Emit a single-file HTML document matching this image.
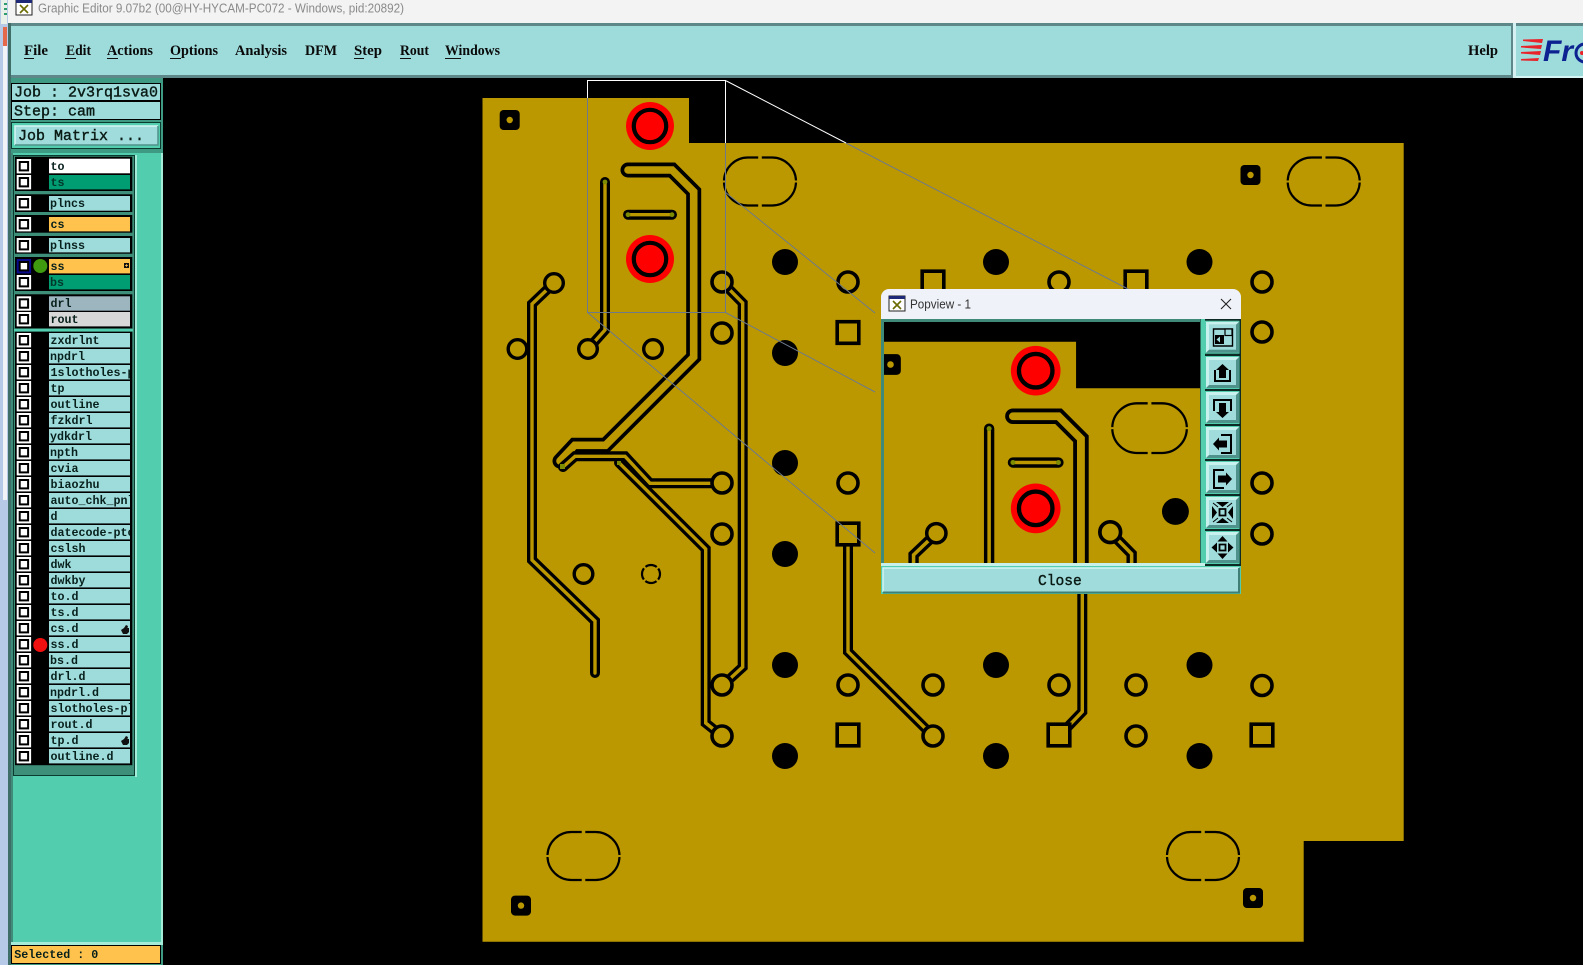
<!DOCTYPE html>
<html lang="en"><head><meta charset="utf-8"><title>Graphic Editor</title>
<style>
html,body{margin:0;padding:0;background:#000;width:1583px;height:965px;overflow:hidden}
svg{display:block}
.m{font:bold 15px "Liberation Serif",serif;fill:#0a0a0a}
.j{font:15px "Liberation Mono",monospace;fill:#0a1a14;stroke:#0a1a14;stroke-width:.4}
.l{font:bold 11.67px "Liberation Mono",monospace;fill:#08201c}
</style></head><body>
<svg xmlns="http://www.w3.org/2000/svg" width="1583" height="965" viewBox="0 0 1583 965">
<defs>
<clipPath id="cellclip"><rect x="49" y="150" width="81" height="620"/></clipPath>
<clipPath id="popclip"><rect x="884" y="322" width="316" height="241"/></clipPath>
<g id="cb"><rect x="16.7" y="0" width="14.4" height="14.4" fill="#fff"/><rect x="18.7" y="2" width="10.4" height="10.4" fill="#000"/><rect x="20.7" y="4" width="6.4" height="6.4" fill="#fff"/></g>
<g id="slot" fill="none" stroke="#000" stroke-width="2.2">
<path d="M1.8,-24H12A24,24 0 0 1 36,-1A24,24 0 0 1 36,-1"/><path d="M36,1A24,24 0 0 1 12,24H1.8"/>
<path d="M-1.8,24H-12A24,24 0 0 1 -36,1"/><path d="M-36,-1A24,24 0 0 1 -12,-24H-1.8"/></g>
<g id="sq"><rect x="-10" y="-10" width="20" height="20" rx="4" fill="#000"/><circle r="3.2" fill="#bb9800"/></g>
<g id="o"><circle r="10" fill="#bb9800" stroke="#000" stroke-width="3.6"/></g>
<g id="os"><circle r="9.3" fill="#bb9800" stroke="#000" stroke-width="3.4"/></g>
<g id="b"><rect x="-10.8" y="-10.8" width="21.6" height="21.6" fill="#bb9800" stroke="#000" stroke-width="3.6"/></g>
<g id="p"><circle r="24" fill="#f00"/><circle r="16.2" fill="#f00" stroke="#000" stroke-width="4.2"/></g>
<g id="t15" fill="none" stroke-linecap="round" stroke-linejoin="miter">
<path d="M628,170H672L693.7,191.7V357L605.5,445.3H574.7L560,461"/></g>
<g id="t10" fill="none" stroke-linecap="round" stroke-linejoin="miter">
<path d="M605,182V330L588,349"/>
<path d="M554,283L532,304V560L595,621V673"/>
<path d="M722,282L742.7,303V667L722,686"/>
<path d="M848,534V651.7L933,736"/>
<path d="M1059,736L1082.3,711.7V560"/>
<path d="M563,467L575,456.3H625L650,483.3H722"/>
<path d="M619,462.7L705.7,549V723L722,736"/>
<path d="M628,214.7H672"/>
</g>
<g id="t15p" fill="none" stroke-linecap="round"><path d="M628,170H672L693.7,191.7V318"/></g>
<g id="t10p" fill="none" stroke-linecap="round">
<path d="M605,182V318"/><path d="M554,283L532,304V318"/><path d="M722,282L742.7,303V318"/><path d="M628,214.7H672"/></g>
<g id="pboard">
<polygon points="482.5,98 689,98 689,143 812,143 812,318 482.5,318" fill="#bb9800"/>
<use href="#t15p" stroke="#000" stroke-width="15"/><use href="#t15p" stroke="#bb9800" stroke-width="7.6"/>
<use href="#t10p" stroke="#000" stroke-width="10"/><use href="#t10p" stroke="#bb9800" stroke-width="3.4"/>
<g fill="#7d8c00"><circle cx="605" cy="182" r="2.4"/><circle cx="628" cy="214.7" r="2.4"/><circle cx="672" cy="214.7" r="2.4"/></g>
<use href="#p" x="650" y="126"/><use href="#p" x="650" y="259"/>
<use href="#sq" x="509.7" y="120"/>
<use href="#slot" x="760" y="181.5"/>
<circle cx="785" cy="262" r="13" fill="#000"/>
<use href="#os" x="554" y="283"/><use href="#o" x="722" y="282"/>
</g>
</defs>

<!-- window chrome -->
<rect width="1583" height="24" fill="#f3f3f3"/>
<rect x="0" y="0" width="8" height="965" fill="#b6c9e6"/>
<rect x="3" y="46" width="4" height="454" fill="#f2f3f6"/>
<rect x="3" y="27" width="4" height="19" fill="#e4694a"/>
<rect x="1" y="0" width="6" height="24" fill="#e9efe9"/><rect x="4" y="3" width="3" height="2" fill="#2f9a6a"/><rect x="4" y="8" width="3" height="2" fill="#2f9a6a"/><rect x="4" y="13" width="3" height="2" fill="#2f9a6a"/>
<rect x="8" y="23" width="1575" height="3" fill="#5d8788"/>
<rect x="8" y="23" width="3" height="942" fill="#3f6e68"/>
<rect x="16" y="0" width="16" height="15" fill="#fff" stroke="#222" stroke-width="1"/><rect x="16" y="0" width="16" height="3" fill="#1e2a78"/><path d="M20,5L28,13M28,5L20,13" stroke="#6a6a00" stroke-width="1.6"/>
<text x="38" y="12.5" font-family="Liberation Sans, sans-serif" font-size="12.5" fill="#8a8a8a" textLength="366" lengthAdjust="spacingAndGlyphs">Graphic Editor 9.07b2 (00@HY-HYCAM-PC072 - Windows, pid:20892)</text>

<!-- menu bar -->
<rect x="11" y="26" width="1501" height="50" fill="#9edcdc"/>
<rect x="11" y="75" width="1502" height="3" fill="#5d8788"/>
<rect x="1511" y="26" width="2" height="50" fill="#5d8788"/>
<rect x="1513" y="23" width="3" height="55" fill="#d5f0f0"/>
<rect x="1516" y="26" width="67" height="50" fill="#9edcdc"/>
<rect x="1516" y="76" width="67" height="2" fill="#d5f5f5"/>
<g>
<text class="m" x="24" y="55" textLength="24" lengthAdjust="spacingAndGlyphs">File</text>
<text class="m" x="66" y="55" textLength="25" lengthAdjust="spacingAndGlyphs">Edit</text>
<text class="m" x="107" y="55" textLength="46" lengthAdjust="spacingAndGlyphs">Actions</text>
<text class="m" x="170" y="55" textLength="48" lengthAdjust="spacingAndGlyphs">Options</text>
<text class="m" x="235" y="55" textLength="52" lengthAdjust="spacingAndGlyphs">Analysis</text>
<text class="m" x="305" y="55" textLength="32" lengthAdjust="spacingAndGlyphs">DFM</text>
<text class="m" x="354" y="55" textLength="28" lengthAdjust="spacingAndGlyphs">Step</text>
<text class="m" x="400" y="55" textLength="29" lengthAdjust="spacingAndGlyphs">Rout</text>
<text class="m" x="445" y="55" textLength="55" lengthAdjust="spacingAndGlyphs">Windows</text>
<text class="m" x="1468" y="55" textLength="30" lengthAdjust="spacingAndGlyphs">Help</text>
</g>
<g fill="#111"><rect x="24" y="58" width="10" height="1"/><rect x="65" y="58" width="11" height="1"/><rect x="107" y="58" width="11" height="1"/><rect x="170" y="58" width="11" height="1"/><rect x="354" y="58" width="10" height="1"/><rect x="400" y="58" width="11" height="1"/><rect x="445" y="58" width="16" height="1"/></g>
<!-- logo -->
<g fill="#e8232a"><polygon points="1523,39.5 1543,39 1542,43 1523,41"/><polygon points="1521,46 1542,45 1541,49 1521,47.5"/><polygon points="1521,52 1541,51 1540,55 1521,53.5"/><polygon points="1521,59 1539,58 1538,61 1521,60.5"/></g>
<text x="1543" y="61" font-family="Liberation Sans, sans-serif" font-weight="bold" font-style="italic" font-size="30" fill="#0c2290" textLength="30" lengthAdjust="spacingAndGlyphs">Fr</text>
<circle cx="1585" cy="53" r="9" fill="none" stroke="#0c2290" stroke-width="3"/><circle cx="1582" cy="53" r="2" fill="#e8232a"/>

<!-- side panel -->
<rect x="11" y="78" width="150" height="887" fill="#52cdad"/>
<rect x="161" y="78" width="2" height="887" fill="#a4ecd8"/>
<rect x="11" y="78" width="152" height="75" fill="#3f9a84"/>
<rect x="11" y="153" width="2" height="790" fill="#3f8a78"/>
<rect x="11.5" y="83.5" width="149" height="17" fill="#9edcdc" stroke="#000"/>
<rect x="11.5" y="101.5" width="149" height="18" fill="#9edcdc" stroke="#000"/>
<text class="j" x="14" y="96.5">Job : 2v3rq1sva0</text>
<text class="j" x="14" y="115.5">Step: cam</text>
<rect x="11.5" y="122.5" width="149" height="26" fill="#52cdad" stroke="#0b3a2e"/>
<rect x="15" y="126" width="143" height="19" fill="#a0dcdc"/>
<path d="M15,145V126H158" fill="none" stroke="#d6f5f3" stroke-width="1.5"/><path d="M158,126V145H15" fill="none" stroke="#4f918b" stroke-width="1.5"/>
<text class="j" x="18" y="140">Job Matrix ...</text>

<!-- layer list -->
<rect x="13.5" y="155.5" width="121" height="620" fill="#52cdad" stroke="#0b3a2e"/>
<rect x="135" y="155" width="2" height="622" fill="#a4ecd8"/>
<rect x="14" y="156" width="120" height="619" fill="#3d8f79"/>
<g fill="#000">
<rect x="15" y="156.7" width="117.3" height="34.3"/>
<rect x="15" y="194.3" width="117.3" height="17.7"/>
<rect x="15" y="215" width="117.3" height="17.7"/>
<rect x="15" y="236" width="117.3" height="17.7"/>
<rect x="15" y="257" width="117.3" height="34"/>
<rect x="15" y="294.3" width="117.3" height="34"/>
<rect x="15" y="331.7" width="117.3" height="433.5"/>
</g>
<rect x="14" y="329" width="119" height="2.4" fill="#52cdad"/>
<g>
<rect x="49" y="158.7" width="81" height="14.6" fill="#fff"/>
<rect x="49" y="175" width="81" height="14.4" fill="#009c72"/>
<rect x="49" y="196" width="81" height="14.7" fill="#9edcdc"/>
<rect x="49" y="217" width="81" height="14.4" fill="#ffc34d"/>
<rect x="49" y="238" width="81" height="14.4" fill="#9edcdc"/>
<rect x="49" y="259" width="81" height="14.4" fill="#ffc34d"/>
<rect x="49" y="275" width="81" height="14.4" fill="#009c72"/>
<rect x="49" y="296.3" width="81" height="14.4" fill="#9db5bf"/>
<rect x="49" y="312" width="81" height="14.4" fill="#d8d8d8"/>
</g>
<g fill="#9edcdc">
<rect x="49" y="333" width="81" height="14.4"/><rect x="49" y="349" width="81" height="14.4"/><rect x="49" y="365" width="81" height="14.4"/><rect x="49" y="381" width="81" height="14.4"/><rect x="49" y="397" width="81" height="14.4"/><rect x="49" y="413" width="81" height="14.4"/><rect x="49" y="429" width="81" height="14.4"/><rect x="49" y="445" width="81" height="14.4"/><rect x="49" y="461" width="81" height="14.4"/><rect x="49" y="477" width="81" height="14.4"/><rect x="49" y="493" width="81" height="14.4"/><rect x="49" y="509" width="81" height="14.4"/><rect x="49" y="525" width="81" height="14.4"/><rect x="49" y="541" width="81" height="14.4"/><rect x="49" y="557" width="81" height="14.4"/><rect x="49" y="573" width="81" height="14.4"/><rect x="49" y="589" width="81" height="14.4"/><rect x="49" y="605" width="81" height="14.4"/><rect x="49" y="621" width="81" height="14.4"/><rect x="49" y="637" width="81" height="14.4"/><rect x="49" y="653" width="81" height="14.4"/><rect x="49" y="669" width="81" height="14.4"/><rect x="49" y="685" width="81" height="14.4"/><rect x="49" y="701" width="81" height="14.4"/><rect x="49" y="717" width="81" height="14.4"/><rect x="49" y="733" width="81" height="14.4"/><rect x="49" y="749" width="81" height="14.4"/>
</g>
<use href="#cb" y="159"/><use href="#cb" y="175"/><use href="#cb" y="196"/><use href="#cb" y="217"/><use href="#cb" y="238"/>
<rect x="16.7" y="259" width="14.4" height="14.4" fill="#0a0a8c"/><rect x="18.7" y="261" width="10.4" height="10.4" fill="#000"/><rect x="20.7" y="263" width="6.4" height="6.4" fill="#fff"/>
<use href="#cb" y="275"/><use href="#cb" y="296.3"/><use href="#cb" y="312"/>
<use href="#cb" y="333"/><use href="#cb" y="349"/><use href="#cb" y="365"/><use href="#cb" y="381"/><use href="#cb" y="397"/><use href="#cb" y="413"/><use href="#cb" y="429"/><use href="#cb" y="445"/><use href="#cb" y="461"/><use href="#cb" y="477"/><use href="#cb" y="493"/><use href="#cb" y="509"/><use href="#cb" y="525"/><use href="#cb" y="541"/><use href="#cb" y="557"/><use href="#cb" y="573"/><use href="#cb" y="589"/><use href="#cb" y="605"/><use href="#cb" y="621"/><use href="#cb" y="637"/><use href="#cb" y="653"/><use href="#cb" y="669"/><use href="#cb" y="685"/><use href="#cb" y="701"/><use href="#cb" y="717"/><use href="#cb" y="733"/><use href="#cb" y="749"/>
<circle cx="40.3" cy="266" r="7" fill="#3f9a10"/><circle cx="40.3" cy="645" r="7" fill="#f01010"/>
<g clip-path="url(#cellclip)">
<text class="l" x="50.5" y="170">to</text><text class="l" x="50.5" y="186" style="fill:#02362a">ts</text>
<text class="l" x="50" y="207">plncs</text><text class="l" x="50.5" y="228">cs</text><text class="l" x="50" y="249">plnss</text>
<text class="l" x="50.5" y="270">ss</text><text class="l" x="50" y="286" style="fill:#02362a">bs</text>
<text class="l" x="50.5" y="307">drl</text><text class="l" x="50.5" y="323">rout</text>
<text class="l" x="50.5" y="344">zxdrlnt</text><text class="l" x="50" y="360">npdrl</text><text class="l" x="50.5" y="376">1slotholes-p</text><text class="l" x="50.5" y="392">tp</text><text class="l" x="50.5" y="408">outline</text><text class="l" x="50.5" y="424">fzkdrl</text><text class="l" x="50" y="440">ydkdrl</text><text class="l" x="50" y="456">npth</text><text class="l" x="50.5" y="472">cvia</text><text class="l" x="50.5" y="488">biaozhu</text><text class="l" x="50.5" y="504">auto_chk_pnl</text><text class="l" x="50.5" y="520">d</text><text class="l" x="50.5" y="536">datecode-ptc</text><text class="l" x="50.5" y="552">cslsh</text><text class="l" x="50.5" y="568">dwk</text><text class="l" x="50.5" y="584">dwkby</text><text class="l" x="50.5" y="600">to.d</text><text class="l" x="50.5" y="616">ts.d</text><text class="l" x="50.5" y="632">cs.d</text><text class="l" x="50.5" y="648">ss.d</text><text class="l" x="50" y="664">bs.d</text><text class="l" x="50.5" y="680">drl.d</text><text class="l" x="50" y="696">npdrl.d</text><text class="l" x="50.5" y="712">slotholes-pl</text><text class="l" x="50.5" y="728">rout.d</text><text class="l" x="50.5" y="744">tp.d</text><text class="l" x="50.5" y="760">outline.d</text>
</g>
<g fill="#111"><path d="M121,630l3,-2l2,-3l2,1l-0.5,2h1.5v4l-2,2h-4l-1,-2z"/><path d="M121,741l3,-2l2,-3l2,1l-0.5,2h1.5v4l-2,2h-4l-1,-2z"/></g>
<rect x="124" y="263" width="5" height="5" fill="#111"/><path d="M125,265.5h3M126.5,264v3" stroke="#ffc34d" stroke-width=".7"/>
<rect x="11" y="942" width="152" height="3" fill="#a4ecd8"/>
<rect x="11" y="945" width="152" height="20" fill="#3f9a84"/>
<rect x="11.5" y="945.5" width="149" height="18" fill="#ffc34d" stroke="#000"/>
<text class="l" x="14.3" y="958">Selected : 0</text>

<!-- board -->
<polygon points="482.5,98 689,98 689,143 1403.7,143 1403.7,841 1303.7,841 1303.7,941.7 482.5,941.7" fill="#bb9800"/>
<use href="#t15" stroke="#000" stroke-width="15"/><use href="#t15" stroke="#bb9800" stroke-width="7.6"/>
<use href="#t10" stroke="#000" stroke-width="10"/><use href="#t10" stroke="#bb9800" stroke-width="3.4"/>
<g fill="#7d8c00"><circle cx="605" cy="182" r="2.4"/><circle cx="628" cy="214.7" r="2.4"/><circle cx="672" cy="214.7" r="2.4"/><rect x="560" y="464" width="5" height="5"/><rect x="617" y="461" width="4" height="4"/></g>
<use href="#p" x="650" y="126"/><use href="#p" x="650" y="259"/>
<use href="#sq" x="509.7" y="120"/><use href="#sq" x="1250.5" y="175"/><use href="#sq" x="521" y="905.6"/><use href="#sq" x="1253" y="898"/>
<use href="#slot" x="760" y="181.5"/><use href="#slot" x="1323.7" y="181.5"/><use href="#slot" x="583.5" y="856"/><use href="#slot" x="1203" y="856"/>
<g fill="#000">
<circle cx="785" cy="262" r="13"/><circle cx="785" cy="353" r="13"/><circle cx="785" cy="463" r="13"/><circle cx="785" cy="554" r="13"/><circle cx="785" cy="665" r="13"/><circle cx="785" cy="756" r="13"/>
<circle cx="996" cy="262" r="13"/><circle cx="996" cy="665" r="13"/><circle cx="996" cy="756" r="13"/>
<circle cx="1199.5" cy="262" r="13"/><circle cx="1199.5" cy="665" r="13"/><circle cx="1199.5" cy="756" r="13"/>
</g>
<use href="#os" x="554" y="283"/><use href="#o" x="722" y="282"/><use href="#o" x="722" y="333"/><use href="#os" x="517.5" y="349"/><use href="#os" x="588" y="349"/><use href="#os" x="653" y="349"/>
<use href="#o" x="722" y="483"/><use href="#o" x="722" y="534"/><use href="#os" x="583.5" y="574"/><use href="#o" x="722" y="685"/><use href="#o" x="722" y="736"/>
<circle cx="651" cy="574" r="9" fill="none" stroke="#000" stroke-width="2.2" stroke-dasharray="12 2.1" stroke-dashoffset="6"/>
<use href="#o" x="848" y="282"/><use href="#b" x="848" y="332.5"/><use href="#o" x="848" y="483"/><use href="#b" x="848" y="534"/><use href="#o" x="848" y="685"/><use href="#b" x="848" y="735"/>
<use href="#b" x="933" y="282"/><use href="#o" x="933" y="685"/><use href="#o" x="933" y="736"/>
<use href="#o" x="1059" y="282"/><use href="#o" x="1059" y="685"/><use href="#b" x="1059" y="735"/>
<use href="#b" x="1136" y="282"/><use href="#o" x="1136" y="685"/><use href="#o" x="1136" y="736"/>
<use href="#o" x="1262" y="282"/><use href="#o" x="1262" y="332"/><use href="#o" x="1262" y="483"/><use href="#o" x="1262" y="534"/><use href="#o" x="1262" y="685.5"/><use href="#b" x="1262" y="735"/>

<!-- popview guide lines -->
<g fill="none" stroke-width="1">
<path d="M587.5,80.5H725.5V143M587.5,80V98M725.5,80.5L846,143" stroke="#fff"/>
<path d="M587.5,98V312.5H725.5V143M846,143L1130,290M725,192L875,313M725.5,312.5L875,392M587.5,312.5L875,553" stroke="#6e7a8c"/>
</g>

<!-- popup -->
<path d="M881,319V297a8,8 0 0 1 8,-8H1233a8,8 0 0 1 8,8V319z" fill="#eff2f8"/>
<rect x="889" y="296" width="16" height="15" fill="#fff" stroke="#222"/><rect x="889" y="296" width="16" height="3" fill="#1e2a78"/><path d="M893,301L901,309M901,301L893,309" stroke="#6a6a00" stroke-width="1.6"/>
<text x="910" y="308.5" font-family="Liberation Sans, sans-serif" font-size="12.5" fill="#333" textLength="61" lengthAdjust="spacingAndGlyphs">Popview - 1</text>
<path d="M1221,299L1231,309M1231,299L1221,309" stroke="#222" stroke-width="1.1" fill="none"/>
<rect x="881" y="319" width="360" height="275" fill="#3f8a78"/>
<rect x="884" y="322" width="316" height="241" fill="#000"/>
<g clip-path="url(#popclip)"><use href="#pboard" transform="translate(362.95 240.3) scale(1.035)"/></g>
<rect x="1200" y="319" width="5" height="246" fill="#52cdad"/>
<rect x="1200" y="319" width="1" height="246" fill="#2d6a5c"/>
<rect x="1205" y="319" width="36" height="247" fill="#0d2a24"/>
<g id="btns">
<g fill="#52cdad"><rect x="1205" y="320.7" width="34.5" height="33"/><rect x="1205" y="356" width="34.5" height="33"/><rect x="1205" y="391" width="34.5" height="33"/><rect x="1205" y="426" width="34.5" height="33"/><rect x="1205" y="461" width="34.5" height="33"/><rect x="1205" y="496" width="34.5" height="33"/><rect x="1205" y="531" width="34.5" height="33"/></g>
<g fill="#4f918b"><rect x="1206" y="321.7" width="33" height="31"/><rect x="1206" y="357" width="33" height="31"/><rect x="1206" y="392" width="33" height="31"/><rect x="1206" y="427" width="33" height="31"/><rect x="1206" y="462" width="33" height="31"/><rect x="1206" y="497" width="33" height="31"/><rect x="1206" y="532" width="33" height="31"/></g>
<g fill="#c9f1ee"><path d="M1206,321.7h33l-3,3h-27v25l-3,3z"/><path d="M1206,357h33l-3,3h-27v25l-3,3z"/><path d="M1206,392h33l-3,3h-27v25l-3,3z"/><path d="M1206,427h33l-3,3h-27v25l-3,3z"/><path d="M1206,462h33l-3,3h-27v25l-3,3z"/><path d="M1206,497h33l-3,3h-27v25l-3,3z"/><path d="M1206,532h33l-3,3h-27v25l-3,3z"/></g>
<g fill="#a0dcdc"><rect x="1209" y="324.7" width="27" height="25"/><rect x="1209" y="360" width="27" height="25"/><rect x="1209" y="395" width="27" height="25"/><rect x="1209" y="430" width="27" height="25"/><rect x="1209" y="465" width="27" height="25"/><rect x="1209" y="500" width="27" height="25"/><rect x="1209" y="535" width="27" height="25"/></g>
</g>
<g fill="#000" stroke="none">
<!-- 1 -->
<path fill="none" stroke="#000" stroke-width="1.4" d="M1213.5,329v17h19v-17z"/><rect x="1215" y="335" width="9" height="9"/><path fill="#a0dcdc" d="M1216.5,339.5l3.5,-3v6z"/><rect x="1225" y="329" width="7" height="6.5" fill="#a0dcdc" stroke="#000" stroke-width="1.2"/>
<!-- 2 -->
<path fill="none" stroke="#000" stroke-width="2" d="M1215,370v11h15v-11"/><path d="M1222.5,364l6.5,6h-3v8h-7v-8h-3z"/>
<!-- 3 -->
<path fill="none" stroke="#000" stroke-width="2" d="M1214,411v-11h17v11"/><path d="M1222.5,418l-6.5,-6h3v-9h7v9h3z"/>
<!-- 4 -->
<path fill="none" stroke="#000" stroke-width="2" d="M1221,435h10v18h-10"/><path d="M1213,444l6,-6.5v3h8v7h-8v3z"/>
<!-- 5 -->
<path fill="none" stroke="#000" stroke-width="2" d="M1224,470h-10v18h10"/><path d="M1232,479l-6,-6.5v3h-8v7h8v3z"/>
<!-- 6 -->
<path fill="none" stroke="#000" stroke-width="1.8" d="M1219.5,509h6v6.5h-6z"/><path d="M1212,506v13l5,-6.5zM1233,506v13l-5,-6.5zM1216,502h13l-6.5,5zM1216,523h13l-6.5,-5z"/>
<path fill="none" stroke="#000" stroke-width="1" d="M1213,503l5,4M1232,503l-5,4M1213,522l5,-4M1232,522l-5,-4"/>
<!-- 7 -->
<path fill="none" stroke="#000" stroke-width="1.8" d="M1219.5,544.5h6v6h-6z"/><path d="M1211.5,547.5l5.5,-5v10zM1233.5,547.5l-5.5,-5v10zM1222.5,536l-5,5.5h10zM1222.5,559l-5,-5.5h10z"/>
</g>
<rect x="881" y="563" width="324" height="3" fill="#c8f0ea"/>
<rect x="881" y="566" width="360" height="28" fill="#52cdad"/>
<rect x="883" y="568" width="356" height="24.5" fill="#a0dcdc"/>
<path d="M883,592V568H1239" fill="none" stroke="#d6f5f3" stroke-width="1.5"/><path d="M1239,568V592.5H883" fill="none" stroke="#3f7f76" stroke-width="2"/>
<text x="1038" y="585" class="j" style="font-size:14.6px">Close</text>
</svg>
</body></html>
